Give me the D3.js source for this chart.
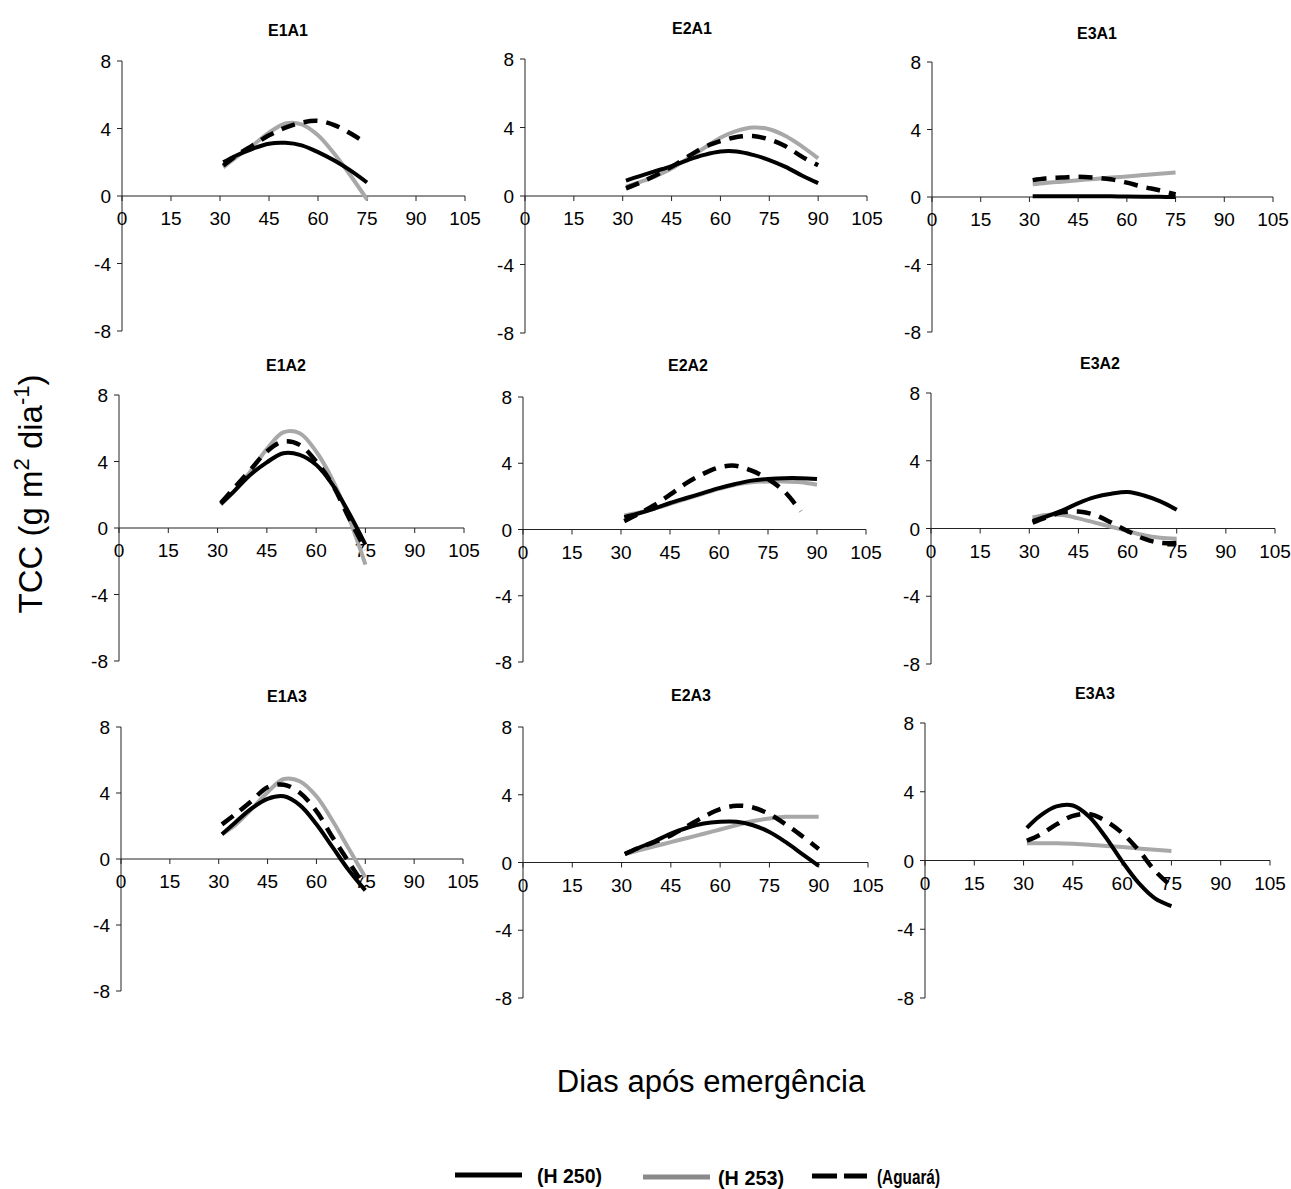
<!DOCTYPE html>
<html lang="pt">
<head>
<meta charset="UTF-8">
<title>TCC</title>
<script src="https://cdn.jsdelivr.net/npm/d3@7"></script>
<style>
    body { margin: 0; background: #fff; }
    text { font-family: Arial, "Liberation Sans", sans-serif; fill: #000; }
    .tick-label { font-size: 19px; }
    .panel-title { font-size: 16px; font-weight: bold; }
    .axis-line { stroke: #222; stroke-width: 1; fill: none; }
</style>
</head>
<body>
<script>
    const width  = 1291;
    const height = 1189;

    // data
    const panelNames = ["E1A1", "E2A1", "E3A1", "E1A2", "E2A2", "E3A2", "E1A3", "E2A3", "E3A3"];
    const seriesNames = ["(H 250)", "(H 253)", "(Aguará)"];
    const xTicks = [0, 15, 30, 45, 60, 75, 90, 105];
    const yTicks = [8, 4, 0, -4, -8];

    const daysShort = [31, 35, 40, 45, 50, 55, 60, 65, 70, 75];
    const daysLong  = [31, 35, 40, 45, 50, 55, 60, 65, 70, 75, 80, 85, 90];

    const e1a1H250 = [2.0, 2.4, 2.8, 3.1, 3.15, 3.0, 2.6, 2.1, 1.5, 0.8];
    const e1a1H253 = [1.7, 2.3, 3.0, 3.75, 4.3, 4.25, 3.6, 2.5, 1.2, -0.2];
    const e1a1Agu  = [1.8, 2.4, 3.0, 3.6, 4.05, 4.35, 4.45, 4.2, 3.7, 3.1];

    const e2a1H250 = [0.9, 1.15, 1.45, 1.75, 2.1, 2.4, 2.6, 2.6, 2.4, 2.1, 1.7, 1.2, 0.75];
    const e2a1H253 = [0.55, 0.8, 1.15, 1.6, 2.2, 2.8, 3.4, 3.8, 4.0, 3.9, 3.5, 2.9, 2.2];
    const e2a1Agu  = [0.45, 0.75, 1.2, 1.7, 2.3, 2.85, 3.2, 3.45, 3.5, 3.3, 2.9, 2.3, 1.8];

    const e3a1H250 = [0.05, 0.05, 0.05, 0.05, 0.05, 0.04, 0.03, 0.02, 0.01, 0.0];
    const e3a1H253 = [0.75, 0.83, 0.91, 0.99, 1.07, 1.15, 1.22, 1.3, 1.38, 1.45];
    const e3a1Agu  = [1.0, 1.1, 1.15, 1.2, 1.15, 1.05, 0.85, 0.6, 0.4, 0.15];

    const e1a2H250 = [1.45, 2.2, 3.2, 3.95, 4.5, 4.4, 3.8, 2.6, 0.9, -1.0];
    const e1a2H253 = [1.4, 2.2, 3.4, 4.75, 5.75, 5.7, 4.6, 2.9, 0.6, -2.2];
    const e1a2Agu  = [1.5, 2.4, 3.5, 4.6, 5.2, 5.0, 4.0, 2.6, 0.6, -1.3];

    const e2a2H250 = [0.75, 0.95, 1.25, 1.6, 1.9, 2.2, 2.5, 2.75, 2.95, 3.05, 3.1, 3.1, 3.05];
    const e2a2H253 = [0.85, 1.0, 1.25, 1.55, 1.85, 2.15, 2.45, 2.7, 2.85, 2.9, 2.9, 2.85, 2.7];
    const e2a2Agu  = [0.5, 0.9, 1.45, 2.1, 2.8, 3.35, 3.75, 3.85, 3.55, 3.05, 2.3, 1.1, null];

    const e3a2H250 = [0.45, 0.7, 1.05, 1.5, 1.85, 2.05, 2.15, 1.95, 1.6, 1.1];
    const e3a2H253 = [0.65, 0.8, 0.8, 0.6, 0.35, 0.1, -0.15, -0.4, -0.55, -0.6];
    const e3a2Agu  = [0.35, 0.65, 0.95, 1.0, 0.8, 0.35, -0.15, -0.6, -0.85, -0.85];

    const e1a3H250 = [1.5, 2.2, 3.05, 3.65, 3.8, 3.25, 2.1, 0.7, -0.7, -1.9];
    const e1a3H253 = [1.5, 2.05, 3.0, 4.05, 4.85, 4.7, 3.8, 2.3, 0.6, -1.1];
    const e1a3Agu  = [2.1, 2.7, 3.5, 4.35, 4.5, 4.0, 2.9, 1.3, -0.2, -1.7];

    const e2a3H250 = [0.5, 0.85, 1.25, 1.7, 2.05, 2.3, 2.4, 2.4, 2.2, 1.8, 1.2, 0.5, -0.2];
    const e2a3H253 = [0.5, 0.7, 0.95, 1.2, 1.45, 1.7, 1.95, 2.2, 2.45, 2.6, 2.7, 2.7, 2.7];
    const e2a3Agu  = [0.5, 0.85, 1.2, 1.6, 2.15, 2.7, 3.15, 3.35, 3.25, 2.85, 2.25, 1.55, 0.8];

    const e3a3H250 = [1.9, 2.6, 3.15, 3.2, 2.55, 1.35, -0.05, -1.3, -2.2, -2.65];
    const e3a3H253 = [1.0, 1.0, 1.0, 0.97, 0.92, 0.85, 0.78, 0.7, 0.62, 0.55];
    const e3a3Agu  = [1.15, 1.5, 2.1, 2.6, 2.7, 2.3, 1.6, 0.6, -0.6, -1.5];

    const panelDays = [daysShort, daysLong, daysShort, daysShort, daysLong, daysShort, daysShort, daysLong, daysShort];
    const panelSeries = [
        [e1a1H250, e1a1H253, e1a1Agu],
        [e2a1H250, e2a1H253, e2a1Agu],
        [e3a1H250, e3a1H253, e3a1Agu],
        [e1a2H250, e1a2H253, e1a2Agu],
        [e2a2H250, e2a2H253, e2a2Agu],
        [e3a2H250, e3a2H253, e3a2Agu],
        [e1a3H250, e1a3H253, e1a3Agu],
        [e2a3H250, e2a3H253, e2a3Agu],
        [e3a3H250, e3a3H253, e3a3Agu]
    ];

    // layout of each small chart (pixels): left, right, top (y=8), bottom (y=-8), title x, title y
    const layout = [
        {x0: 122, x1: 465, y0: 61,  y1: 331, tx: 288,  ty: 36},
        {x0: 525, x1: 867, y0: 59,  y1: 333, tx: 692,  ty: 34},
        {x0: 932, x1: 1273, y0: 62, y1: 332, tx: 1097, ty: 39},
        {x0: 119, x1: 464, y0: 395, y1: 661, tx: 286,  ty: 371},
        {x0: 523, x1: 866, y0: 397, y1: 662, tx: 688,  ty: 371},
        {x0: 931, x1: 1275, y0: 393, y1: 664, tx: 1100, ty: 369},
        {x0: 121, x1: 463, y0: 727, y1: 991, tx: 287,  ty: 702},
        {x0: 523, x1: 868, y0: 727, y1: 998, tx: 691,  ty: 701},
        {x0: 925, x1: 1270, y0: 723, y1: 998, tx: 1095, ty: 699}
    ];

    const styles = [
        {stroke: "#000000", width: 4,   dash: null},
        {stroke: "#a8a8a8", width: 4,   dash: null},
        {stroke: "#000000", width: 4.5, dash: "14,9"}
    ];
    const drawOrder = [1, 0, 2];

    const svg = d3.select("body").append("svg")
                  .attr("width", width)
                  .attr("height", height)
                  .style("background", "#fff");

    panelNames.forEach((name, p) => {
        const L = layout[p];
        const x = d3.scaleLinear().domain([0, 105]).range([L.x0, L.x1]);
        const y = d3.scaleLinear().domain([-8, 8]).range([L.y1, L.y0]);
        const g = svg.append("g");

        g.append("text")
         .attr("class", "panel-title")
         .attr("x", L.tx).attr("y", L.ty)
         .attr("text-anchor", "middle")
         .text(name);

        // y axis
        g.append("line").attr("class", "axis-line")
         .attr("x1", x(0)).attr("x2", x(0))
         .attr("y1", y(8)).attr("y2", y(-8));
        g.selectAll(".ytick").data(yTicks).enter().append("line")
         .attr("class", "axis-line")
         .attr("x1", x(0) - 5).attr("x2", x(0))
         .attr("y1", d => y(d)).attr("y2", d => y(d));
        g.selectAll(".ylab").data(yTicks).enter().append("text")
         .attr("class", "tick-label")
         .attr("x", x(0) - 11)
         .attr("y", d => y(d) + 7)
         .attr("text-anchor", "end")
         .text(d => d);

        // x axis at zero
        g.append("line").attr("class", "axis-line")
         .attr("x1", x(0)).attr("x2", x(105))
         .attr("y1", y(0)).attr("y2", y(0));
        g.selectAll(".xtick").data(xTicks).enter().append("line")
         .attr("class", "axis-line")
         .attr("x1", d => x(d)).attr("x2", d => x(d))
         .attr("y1", y(0)).attr("y2", y(0) + 5);
        g.selectAll(".xlab").data(xTicks).enter().append("text")
         .attr("class", "tick-label")
         .attr("x", d => x(d))
         .attr("y", y(0) + 29)
         .attr("text-anchor", "middle")
         .text(d => d);

        const days = panelDays[p];
        const line = d3.line()
                       .defined(d => d[1] != null)
                       .x(d => x(d[0]))
                       .y(d => y(d[1]))
                       .curve(d3.curveCatmullRom.alpha(0.5));

        drawOrder.forEach(s => {
            const vals = panelSeries[p][s];
            const pts = days.map((d, i) => [d, vals[i]]);
            g.append("path")
             .attr("d", line(pts))
             .attr("fill", "none")
             .attr("stroke", styles[s].stroke)
             .attr("stroke-width", styles[s].width)
             .attr("stroke-dasharray", styles[s].dash)
             .attr("stroke-linejoin", "round");
        });
    });

    // axis titles
    svg.append("text")
       .attr("x", 711).attr("y", 1092)
       .attr("text-anchor", "middle")
       .style("font-size", "31px")
       .text("Dias após emergência");

    const yTitle = svg.append("text")
       .attr("transform", "translate(42,494) rotate(-90)")
       .attr("text-anchor", "middle")
       .style("font-size", "33px");
    yTitle.append("tspan").text("TCC (g m");
    yTitle.append("tspan").attr("dy", -13).style("font-size", "22px").text("2");
    yTitle.append("tspan").attr("dy", 13).text(" dia");
    yTitle.append("tspan").attr("dy", -13).style("font-size", "22px").text("-1");
    yTitle.append("tspan").attr("dy", 13).text(")");

    // legend
    const legendItems = [
        {x1: 455, x2: 522, tx: 537, tw: 65, y: 1175},
        {x1: 643, x2: 710, tx: 718, tw: 66, y: 1177},
        {x1: 812, x2: 867, tx: 877, tw: 63, y: 1176}
    ];
    const legendStroke = ["#000000", "#8a8a8a", "#000000"];
    const legendDash = [null, null, "25,7"];

    seriesNames.forEach((nm, i) => {
        const it = legendItems[i];
        svg.append("line")
           .attr("x1", it.x1).attr("x2", it.x2)
           .attr("y1", it.y).attr("y2", it.y)
           .attr("stroke", legendStroke[i])
           .attr("stroke-width", 5)
           .attr("stroke-dasharray", legendDash[i]);
        svg.append("text")
           .attr("x", it.tx).attr("y", it.y + 8)
           .attr("textLength", it.tw)
           .attr("lengthAdjust", "spacingAndGlyphs")
           .style("font-size", "20px")
           .style("font-weight", "bold")
           .text(nm);
    });
</script>
</body>
</html>
